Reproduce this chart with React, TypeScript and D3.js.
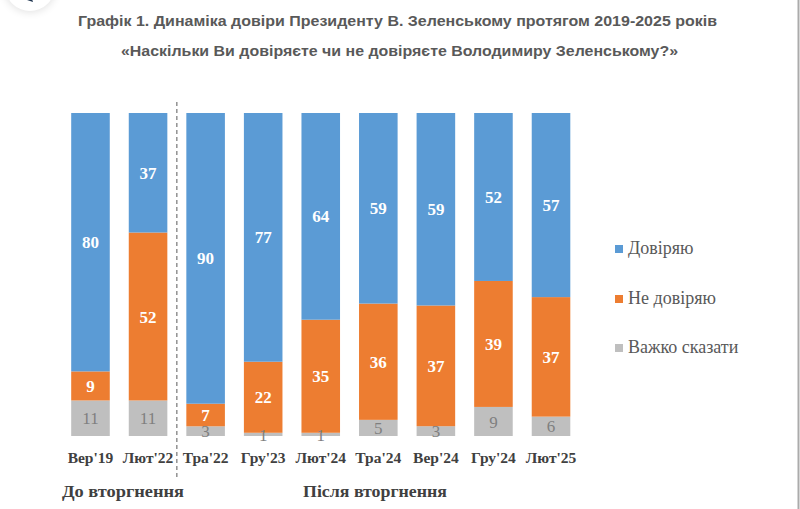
import React from 'react';
import * as d3 from 'd3';

const titleLines = [
  'Графік 1. Динаміка довіри Президенту В. Зеленському протягом 2019-2025 років',
  '«Наскільки Ви довіряєте чи не довіряєте Володимиру Зеленському?»',
];
const categories = ["Вер'19", "Лют'22", "Тра'22", "Гру'23", "Лют'24", "Тра'24", "Вер'24", "Гру'24", "Лют'25"];
const trust = [80, 37, 90, 77, 64, 59, 59, 52, 57];
const distrust = [9, 52, 7, 22, 35, 36, 37, 39, 37];
const hard = [11, 11, 3, 1, 1, 5, 3, 9, 6];
const seriesKeys = ['hard', 'distrust', 'trust'];
const seriesNames = ['Довіряю', 'Не довіряю', 'Важко сказати'];
const groupLabels = ['До вторгнення', 'Після вторгнення'];

const W = 800;
const H = 509;
const colors: Record<string, string> = { trust: '#5B9BD5', distrust: '#ED7D31', hard: '#BFBFBF' };
const labelColors: Record<string, string> = { trust: '#FFFFFF', distrust: '#FFFFFF', hard: '#7F7F7F' };
const serif = "'Liberation Serif', 'DejaVu Serif', 'Times New Roman', serif";
const narrow = "'Liberation Sans Narrow', 'Arial Narrow', 'Liberation Sans', sans-serif";

export default function App() {
  const rows = categories.map((c, i) => ({ cat: c, trust: trust[i], distrust: distrust[i], hard: hard[i] }));
  const stack = d3.stack<any>().keys(seriesKeys).offset(d3.stackOffsetExpand);
  const layers = stack(rows);

  const x = d3.scaleBand<string>().domain(categories).range([61.7, 579.8]).paddingInner(0.33).paddingOuter(0.165);
  const y = d3.scaleLinear().domain([0, 1]).range([436, 113]);

  const sepX = ((x(categories[1]) as number) + x.bandwidth() + (x(categories[2]) as number)) / 2;

  const legendOrder = ['trust', 'distrust', 'hard'];
  const legendY = [254, 304, 353];

  return (
    <svg width={W} height={H} style={{ position: 'absolute', left: 0, top: 0, background: '#fff' }}>
      <defs>
        <filter id="sh" x="-50%" y="-50%" width="200%" height="200%">
          <feGaussianBlur stdDeviation="4" />
        </filter>
      </defs>
      <rect x={0} y={0} width={W} height={H} fill="#fff" />
      <circle cx={30} cy={-14} r={26} fill="#000" opacity={0.12} filter="url(#sh)" />
      <circle cx={30} cy={-14} r={25} fill="#fff" />
      <path d="M27,0 L31,-4 L33,2 Z" fill="#1f3550" />
      <line x1={798.5} x2={798.5} y1={0} y2={H} stroke="#ababab" strokeWidth={2} />

      <text x={397.5} y={26} textAnchor="middle" fill="#595959" fontWeight="bold" fontSize={15.5}
        style={{ fontFamily: narrow }} textLength={639} lengthAdjust="spacingAndGlyphs">{titleLines[0]}</text>
      <text x={399.5} y={56} textAnchor="middle" fill="#595959" fontWeight="bold" fontSize={15.5}
        style={{ fontFamily: narrow }} textLength={557} lengthAdjust="spacingAndGlyphs">{titleLines[1]}</text>

      {layers.map((layer) => (
        <g key={layer.key}>
          {layer.map((d, i) => (
            <rect key={i} x={x(categories[i])} y={y(d[1])} width={x.bandwidth()} height={y(d[0]) - y(d[1])}
              fill={colors[layer.key]} />
          ))}
        </g>
      ))}
      {layers.map((layer) => (
        <g key={'l' + layer.key}>
          {layer.map((d, i) => (
            <text key={i} x={(x(categories[i]) as number) + x.bandwidth() / 2} y={(y(d[0]) + y(d[1])) / 2}
              dy="0.36em" textAnchor="middle" fill={labelColors[layer.key]} style={{ fontFamily: serif }}
              fontWeight={layer.key === 'hard' ? 'normal' : 'bold'} fontSize={17}>
              {(rows[i] as any)[layer.key]}
            </text>
          ))}
        </g>
      ))}

      <line x1={sepX} x2={sepX} y1={102} y2={480} stroke="#808080" strokeWidth={1.3} strokeDasharray="4,3" />

      {categories.map((c) => (
        <text key={c} x={(x(c) as number) + x.bandwidth() / 2} y={463} textAnchor="middle" fill="#404040"
          style={{ fontFamily: serif }} fontWeight="bold" fontSize={15.5}>{c}</text>
      ))}

      <text x={62} y={497} fill="#404040" style={{ fontFamily: serif }} fontWeight="bold" fontSize={17.5}
        textLength={122} lengthAdjust="spacingAndGlyphs">{groupLabels[0]}</text>
      <text x={303} y={497} fill="#404040" style={{ fontFamily: serif }} fontWeight="bold" fontSize={17.5}
        textLength={144} lengthAdjust="spacingAndGlyphs">{groupLabels[1]}</text>

      {legendOrder.map((k, i) => (
        <g key={k}>
          <rect x={615} y={legendY[i] - 9} width={8} height={8} fill={colors[k]} />
          <text x={628} y={legendY[i]} fill="#595959" style={{ fontFamily: serif }} fontSize={18}>{seriesNames[i]}</text>
        </g>
      ))}
    </svg>
  );
}
